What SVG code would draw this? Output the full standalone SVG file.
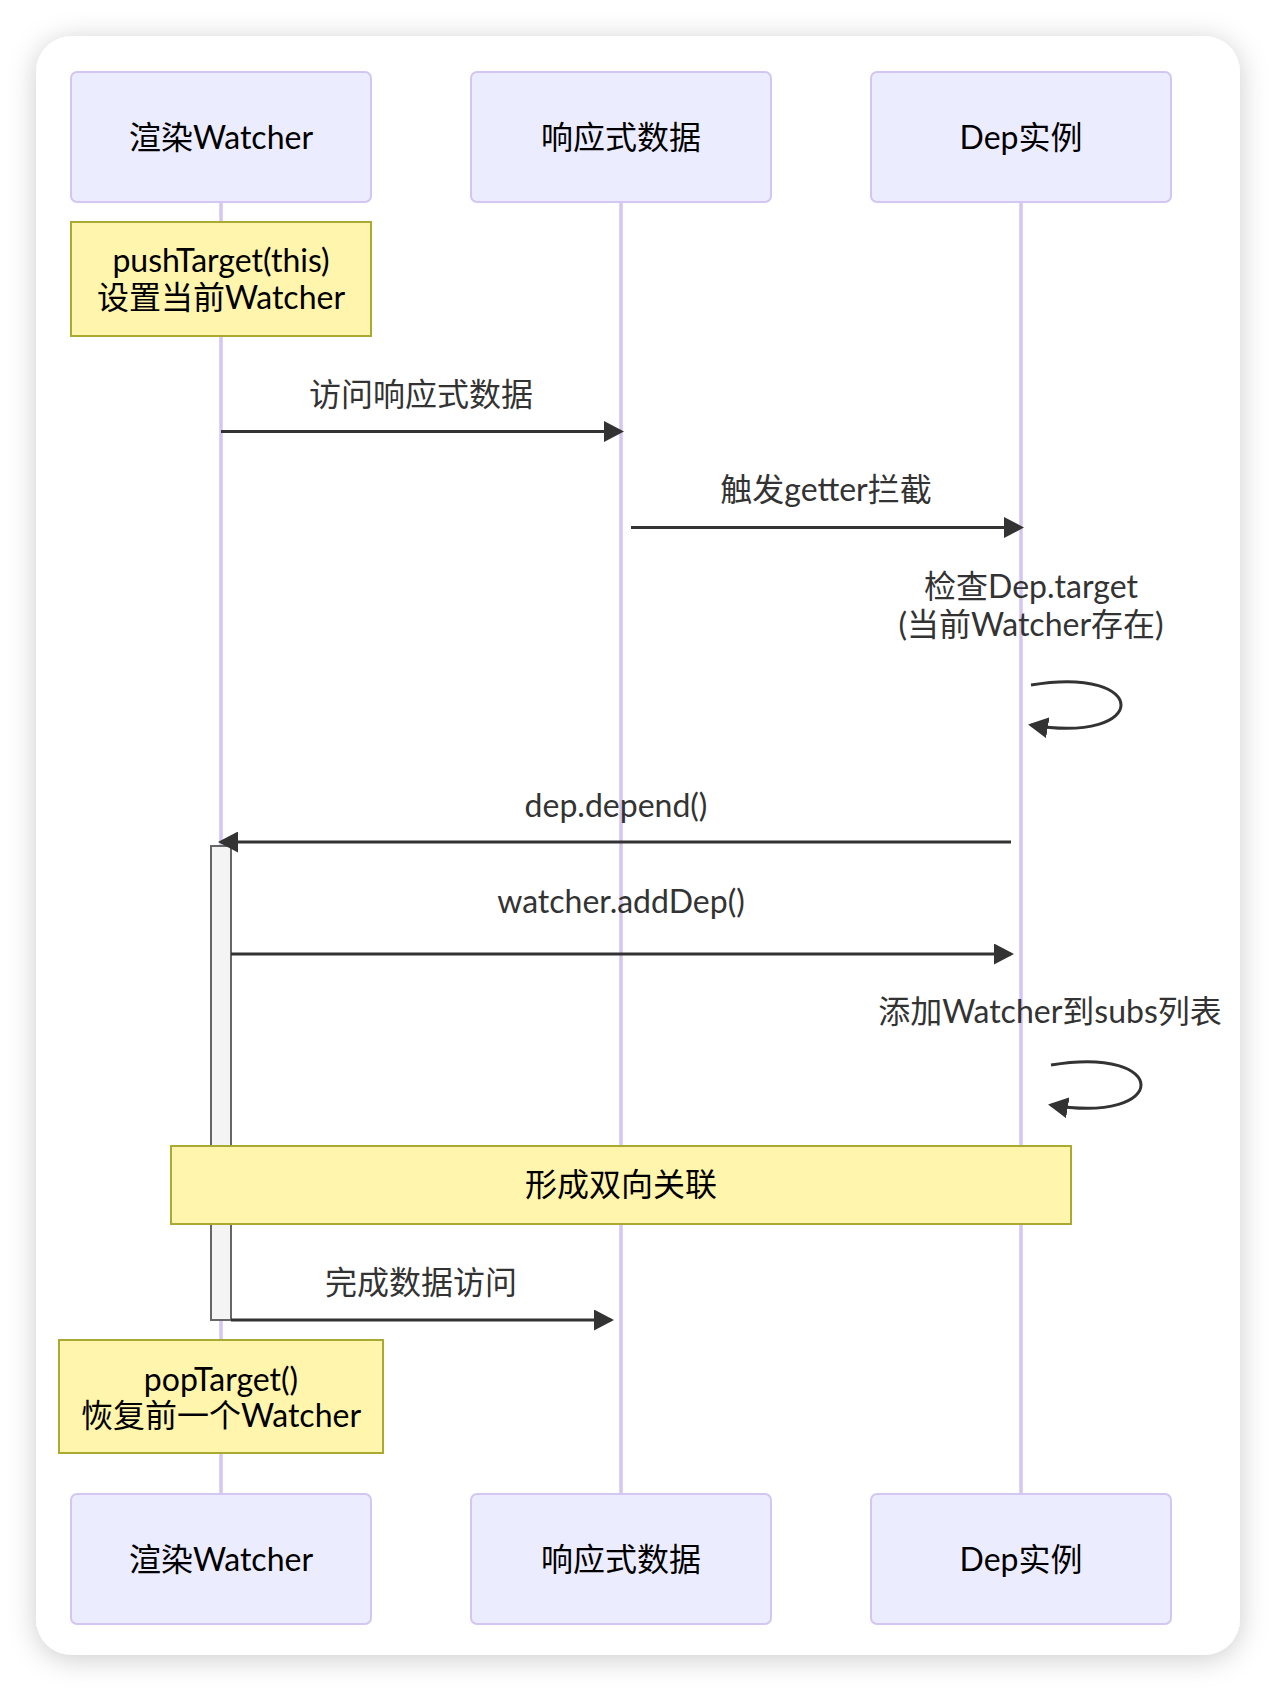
<svg xmlns="http://www.w3.org/2000/svg" width="1276" height="1692" viewBox="0 0 1276 1692">
  <defs>
    <filter id="cardShadow" x="-10%" y="-10%" width="120%" height="120%">
      <feDropShadow dx="0" dy="4" stdDeviation="14" flood-color="#000000" flood-opacity="0.2"/>
    </filter>
    <marker id="arrow" markerUnits="userSpaceOnUse" viewBox="0 0 20 21" markerWidth="20" markerHeight="21" refX="17" refY="10.5" orient="auto">
      <path d="M0,0 L20,10.5 L0,21 z" fill="#333333"/>
    </marker>
    <style>
      .actor { fill: #ECECFF; stroke: #D3C6F2; stroke-width: 2; }
      .lifeline { stroke: #D3C6F2; stroke-width: 3.5; fill: none; }
      .note { fill: #FFF5AD; stroke: #AAAA33; stroke-width: 2; }
      .activation { fill: #F4F4F4; stroke: #666666; stroke-width: 2; }
      .msg { stroke: #333333; stroke-width: 3; fill: none; marker-end: url(#arrow); }
      text { font-family: Lato, "Noto Sans CJK SC", sans-serif; font-size: 32px; text-anchor: middle; dominant-baseline: central; }
      .actor-text { fill: #000000; }
      .note-text { fill: #000000; }
      .msg-text { fill: #333333; }
    </style>
  </defs>

  <rect x="0" y="0" width="1276" height="1692" fill="#FFFFFF"/>
  <rect x="36" y="36" width="1204" height="1619" rx="36" ry="36" fill="#FFFFFF" filter="url(#cardShadow)"/>

  <g id="lifelines">
    <line class="lifeline" x1="221" y1="202" x2="221" y2="1494"/>
    <line class="lifeline" x1="621" y1="202" x2="621" y2="1494"/>
    <line class="lifeline" x1="1021" y1="202" x2="1021" y2="1494"/>
  </g>

  <g id="actor-watcher-top">
    <rect class="actor" x="71" y="72" width="300" height="130" rx="6"/>
    <text class="actor-text" x="221" y="136">渲染Watcher</text>
  </g>
  <g id="actor-data-top">
    <rect class="actor" x="471" y="72" width="300" height="130" rx="6"/>
    <text class="actor-text" x="621" y="136">响应式数据</text>
  </g>
  <g id="actor-dep-top">
    <rect class="actor" x="871" y="72" width="300" height="130" rx="6"/>
    <text class="actor-text" x="1021" y="136">Dep实例</text>
  </g>

  <g id="note-push">
    <rect class="note" x="71" y="222" width="300" height="114"/>
    <text class="note-text" x="221" y="259">pushTarget(this)</text>
    <text class="note-text" x="221" y="296">设置当前Watcher</text>
  </g>

  <g id="activation-watcher">
    <rect class="activation" x="211" y="846" width="20" height="474"/>
  </g>

  <g id="note-link">
    <rect class="note" x="171" y="1146" width="900" height="78"/>
    <text class="note-text" x="621" y="1183">形成双向关联</text>
  </g>

  <g id="note-pop">
    <rect class="note" x="59" y="1340" width="324" height="113"/>
    <text class="note-text" x="221" y="1378">popTarget()</text>
    <text class="note-text" x="221" y="1414">恢复前一个Watcher</text>
  </g>

  <g id="connectors">
    <line class="msg" x1="221" y1="431.5" x2="621" y2="431.5"/>
    <line class="msg" x1="631" y1="527.5" x2="1021" y2="527.5"/>
    <path class="msg" d="M1031,685 C1151,665 1151,745 1031,725"/>
    <line class="msg" x1="1011" y1="842" x2="221" y2="842"/>
    <line class="msg" x1="231" y1="954" x2="1011" y2="954"/>
    <path class="msg" d="M1051,1065 C1171,1045 1171,1125 1051,1105"/>
    <line class="msg" x1="231" y1="1320" x2="611" y2="1320"/>
  </g>

  <g id="message-labels">
    <text class="msg-text" x="421" y="393">访问响应式数据</text>
    <text class="msg-text" x="826" y="488">触发getter拦截</text>
    <text class="msg-text" x="1031" y="585">检查Dep.target</text>
    <text class="msg-text" x="1031" y="623">(当前Watcher存在)</text>
    <text class="msg-text" x="616" y="804">dep.depend()</text>
    <text class="msg-text" x="621" y="900">watcher.addDep()</text>
    <text class="msg-text" x="1050" y="1010">添加Watcher到subs列表</text>
    <text class="msg-text" x="421" y="1281">完成数据访问</text>
  </g>

  <g id="actor-watcher-bottom">
    <rect class="actor" x="71" y="1494" width="300" height="130" rx="6"/>
    <text class="actor-text" x="221" y="1558">渲染Watcher</text>
  </g>
  <g id="actor-data-bottom">
    <rect class="actor" x="471" y="1494" width="300" height="130" rx="6"/>
    <text class="actor-text" x="621" y="1558">响应式数据</text>
  </g>
  <g id="actor-dep-bottom">
    <rect class="actor" x="871" y="1494" width="300" height="130" rx="6"/>
    <text class="actor-text" x="1021" y="1558">Dep实例</text>
  </g>
</svg>
